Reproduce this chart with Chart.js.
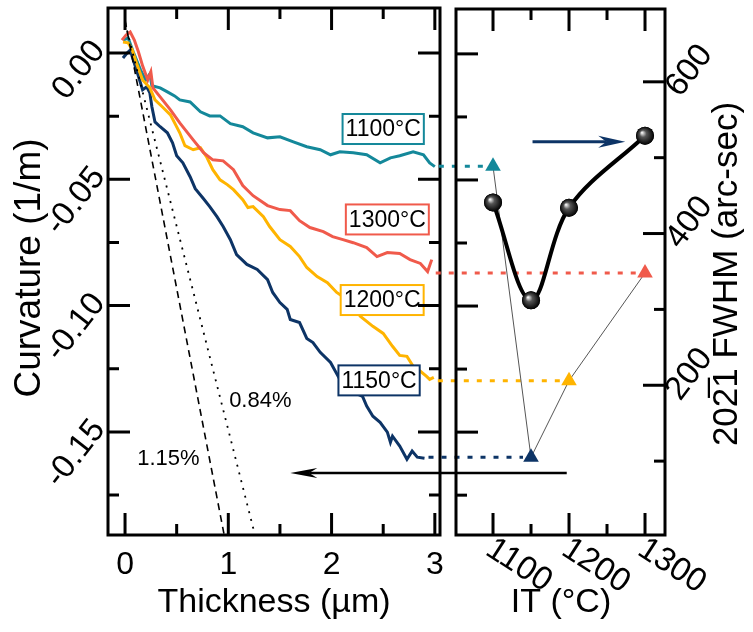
<!DOCTYPE html>
<html>
<head>
<meta charset="utf-8">
<title>Curvature vs thickness / IT</title>
<script src="https://cdn.jsdelivr.net/npm/chart.js@4.4.0/dist/chart.umd.min.js"></script>
<style>
  html, body { margin: 0; padding: 0; background: #fff; }
  #wrap { position: relative; width: 753px; height: 632px; }
  #wrap canvas { position: absolute; left: 0; top: 0; }
</style>
</head>
<body>
<div id="wrap">
  <canvas id="curvChart" width="753" height="632"></canvas>
  <canvas id="itChart" width="753" height="632"></canvas>
</div>
<script>
// ---- data ----
// curvature (1/m) vs film thickness (um) for each interlayer temperature
const thick1100 = [-0.02, 0.03, 0.08, 0.15, 0.20, 0.24, 0.26, 0.34, 0.41, 0.48, 0.53, 0.63, 0.73, 0.82, 0.92, 1.02, 1.14, 1.24, 1.38, 1.50, 1.63, 1.76, 1.89, 1.99, 2.08, 2.21, 2.34, 2.47, 2.57, 2.66, 2.79, 2.89, 2.95, 3.00];
const curv1100 = [0.0051, 0.0059, 0.0004, -0.0067, -0.0107, -0.0083, -0.0130, -0.0138, -0.0154, -0.0170, -0.0186, -0.0194, -0.0233, -0.0249, -0.0249, -0.0280, -0.0292, -0.0316, -0.0336, -0.0332, -0.0352, -0.0371, -0.0383, -0.0403, -0.0391, -0.0395, -0.0403, -0.0435, -0.0415, -0.0407, -0.0391, -0.0403, -0.0435, -0.0450];

const thick1300 = [-0.03, 0.01, 0.05, 0.09, 0.13, 0.17, 0.22, 0.25, 0.27, 0.34, 0.44, 0.53, 0.66, 0.76, 0.85, 0.95, 1.05, 1.14, 1.24, 1.38, 1.50, 1.60, 1.69, 1.79, 1.92, 2.01, 2.11, 2.21, 2.34, 2.44, 2.54, 2.66, 2.76, 2.86, 2.93, 2.97];
const curv1300 = [0.0051, 0.0071, 0.0083, 0.0051, 0.0004, -0.0051, -0.0107, -0.0075, -0.0138, -0.0174, -0.0225, -0.0277, -0.0344, -0.0395, -0.0423, -0.0427, -0.0462, -0.0525, -0.0565, -0.0604, -0.0620, -0.0624, -0.0664, -0.0691, -0.0707, -0.0727, -0.0739, -0.0751, -0.0770, -0.0806, -0.0790, -0.0794, -0.0818, -0.0833, -0.0865, -0.0818];

const thick1200 = [-0.02, 0.03, 0.07, 0.12, 0.17, 0.24, 0.29, 0.36, 0.44, 0.53, 0.58, 0.66, 0.73, 0.79, 0.85, 0.92, 0.99, 1.05, 1.14, 1.19, 1.24, 1.34, 1.40, 1.50, 1.60, 1.69, 1.76, 1.86, 1.96, 2.05, 2.15, 2.28, 2.40, 2.50, 2.59, 2.66, 2.73, 2.79, 2.86, 2.92, 2.95, 2.99];
const curv1200 = [0.0043, 0.0040, 0.0012, -0.0051, -0.0107, -0.0138, -0.0186, -0.0213, -0.0245, -0.0316, -0.0367, -0.0383, -0.0375, -0.0411, -0.0462, -0.0502, -0.0521, -0.0541, -0.0581, -0.0612, -0.0608, -0.0648, -0.0687, -0.0739, -0.0766, -0.0806, -0.0849, -0.0885, -0.0909, -0.0948, -0.0976, -0.1043, -0.1082, -0.1110, -0.1161, -0.1197, -0.1201, -0.1240, -0.1260, -0.1280, -0.1292, -0.1284];

const thick1150 = [-0.02, 0.02, 0.05, 0.08, 0.12, 0.17, 0.21, 0.24, 0.26, 0.29, 0.34, 0.41, 0.46, 0.50, 0.56, 0.63, 0.68, 0.76, 0.82, 0.89, 0.95, 1.02, 1.08, 1.18, 1.28, 1.38, 1.43, 1.50, 1.57, 1.60, 1.69, 1.76, 1.82, 1.89, 1.99, 2.08, 2.15, 2.21, 2.30, 2.34, 2.40, 2.47, 2.54, 2.57, 2.59, 2.66, 2.73, 2.78, 2.83, 2.90];
const curv1150 = [-0.0020, 0.0000, 0.0012, -0.0028, -0.0079, -0.0146, -0.0134, -0.0158, -0.0213, -0.0273, -0.0292, -0.0316, -0.0356, -0.0407, -0.0435, -0.0490, -0.0537, -0.0577, -0.0608, -0.0648, -0.0687, -0.0739, -0.0798, -0.0837, -0.0857, -0.0897, -0.0948, -0.0988, -0.1015, -0.1055, -0.1067, -0.1130, -0.1146, -0.1185, -0.1225, -0.1292, -0.1319, -0.1343, -0.1359, -0.1398, -0.1438, -0.1462, -0.1501, -0.1541, -0.1517, -0.1556, -0.1608, -0.1576, -0.1600, -0.1604];

// theoretical strain lines (1.15% dashed, 0.84% dotted)
const guide115Thick = [0, 0.96];
const guide115Curv = [0.013, -0.1908];
const guide084Thick = [0, 1.258];
const guide084Curv = [0.012, -0.1908];

// right panel
const itTemps = [1100, 1150, 1200, 1300];
const fwhmArcsec = [441, 312, 434, 529];
const finalCurv = [-0.0446, -0.1600, -0.1296, -0.0869];

// ticks
const thickMajor = [0, 1, 2, 3];
const thickMinor = [0.5, 1.5, 2.5];
const curvMajor = [0, -0.05, -0.10, -0.15];
const curvMinor = [0.025, -0.025, -0.075, -0.125, -0.175];
const curvLabels = ['0.00', '-0.05', '-0.10', '-0.15'];
const itMajor = [1100, 1200, 1300];
const itMinor = [1150, 1250];
const fwhmMajor = [200, 400, 600];
const fwhmMinor = [100, 300, 500];

// colours
const c1100 = '#14889a';
const c1150 = '#0d3466';
const c1200 = '#ffb400';
const c1300 = '#f05a4b';
const tempColours = [c1100, c1150, c1200, c1300];
const FONT = '"Liberation Sans", Arial, Helvetica, sans-serif';

// annotations (data coordinates)
const tempBoxes = [
  { text: '1100°C', x: 2.50, y: -0.0301, color: c1100 },
  { text: '1300°C', x: 2.54, y: -0.0659, color: c1300 },
  { text: '1200°C', x: 2.49, y: -0.0978, color: c1200 },
  { text: '1150°C', x: 2.46, y: -0.1296, color: c1150 }
];
const strainLabels = [
  { text: '0.84%', x: 1.31, y: -0.1377 },
  { text: '1.15%', x: 0.42, y: -0.1607 }
];

function pts(xs, ys) {
  return xs.map((x, i) => ({ x: x, y: ys[i] }));
}

function curveSet(label, xs, ys, colour, order) {
  return {
    label: label,
    data: pts(xs, ys),
    showLine: true,
    borderColor: colour,
    borderWidth: 3,
    pointRadius: 0,
    tension: 0,
    order: order
  };
}

function frameRect(ctx, a) {
  ctx.lineWidth = 3;
  ctx.strokeStyle = '#000';
  ctx.strokeRect(a.left, a.top, a.right - a.left, a.bottom - a.top);
}

function xTicks(ctx, scale, a, values, len) {
  values.forEach(v => {
    const px = scale.getPixelForValue(v);
    ctx.beginPath();
    ctx.moveTo(px, a.bottom); ctx.lineTo(px, a.bottom - len);
    ctx.moveTo(px, a.top); ctx.lineTo(px, a.top + len);
    ctx.stroke();
  });
}

function yTicks(ctx, scale, a, values, len, side) {
  values.forEach(v => {
    const py = scale.getPixelForValue(v);
    ctx.beginPath();
    if (side !== 'right') { ctx.moveTo(a.left, py); ctx.lineTo(a.left + len, py); }
    if (side !== 'left') { ctx.moveTo(a.right, py); ctx.lineTo(a.right - len, py); }
    ctx.stroke();
  });
}

function rotText(ctx, text, x, y, deg, align, size) {
  ctx.save();
  ctx.translate(x, y);
  ctx.rotate(deg * Math.PI / 180);
  ctx.font = size + 'px ' + FONT;
  ctx.textAlign = align;
  ctx.textBaseline = 'middle';
  ctx.fillStyle = '#000';
  ctx.fillText(text, 0, 0);
  ctx.restore();
}

function arrow(ctx, x1, y1, x2, y2, colour, width, headLen, headHalf) {
  const ang = Math.atan2(y2 - y1, x2 - x1);
  ctx.save();
  ctx.strokeStyle = colour;
  ctx.fillStyle = colour;
  ctx.lineWidth = width;
  ctx.beginPath();
  ctx.moveTo(x1, y1);
  ctx.lineTo(x2 - Math.cos(ang) * headLen * 0.7, y2 - Math.sin(ang) * headLen * 0.7);
  ctx.stroke();
  ctx.translate(x2, y2);
  ctx.rotate(ang);
  ctx.beginPath();
  ctx.moveTo(0, 0);
  ctx.lineTo(-headLen, -headHalf);
  ctx.lineTo(-headLen * 0.7, 0);
  ctx.lineTo(-headLen, headHalf);
  ctx.closePath();
  ctx.fill();
  ctx.restore();
}

// left panel decorations: frame, ticks, labels, boxes
const curvDecor = {
  id: 'curvDecor',
  afterDatasetsDraw(chart) {
    const { ctx, scales: { x, y } } = chart;
    ctx.save();
    tempBoxes.forEach(b => {
      ctx.font = '23px ' + FONT;
      const w = ctx.measureText(b.text).width + 6;
      const h = 30;
      const cx = x.getPixelForValue(b.x);
      const cy = y.getPixelForValue(b.y);
      ctx.fillStyle = '#fff';
      ctx.fillRect(cx - w / 2, cy - h / 2, w, h);
      ctx.strokeStyle = b.color;
      ctx.lineWidth = 2;
      ctx.strokeRect(cx - w / 2, cy - h / 2, w, h);
      ctx.fillStyle = '#000';
      ctx.textAlign = 'center';
      ctx.textBaseline = 'middle';
      ctx.fillText(b.text, cx, cy + 1);
    });
    strainLabels.forEach(s => {
      ctx.font = '22px ' + FONT;
      ctx.fillStyle = '#000';
      ctx.textAlign = 'center';
      ctx.textBaseline = 'middle';
      ctx.fillText(s.text, x.getPixelForValue(s.x), y.getPixelForValue(s.y));
    });
    ctx.restore();
  },
  afterDraw(chart) {
    const { ctx, chartArea: a, scales: { x, y } } = chart;
    ctx.save();
    frameRect(ctx, a);
    xTicks(ctx, x, a, thickMajor, 22);
    xTicks(ctx, x, a, thickMinor, 11);
    yTicks(ctx, y, a, curvMajor, 22, 'both');
    yTicks(ctx, y, a, curvMinor, 11, 'both');
    ctx.font = '32px ' + FONT;
    ctx.fillStyle = '#000';
    ctx.textAlign = 'center';
    ctx.textBaseline = 'middle';
    thickMajor.forEach(v => ctx.fillText(String(v), x.getPixelForValue(v), 565));
    curvMajor.forEach((v, i) => rotText(ctx, curvLabels[i], 99, y.getPixelForValue(v) - 8, -52, 'right', 33));
    rotText(ctx, 'Thickness (µm)', (a.left + a.right) / 2, 603, 0, 'center', 34);
    rotText(ctx, 'Curvature (1/m)', 30, 268, -90, 'center', 37);
    ctx.restore();
  }
};

const curvChart = new Chart(document.getElementById('curvChart'), {
  type: 'scatter',
  data: {
    datasets: [
      curveSet('1100°C', thick1100, curv1100, c1100, 3),
      curveSet('1150°C', thick1150, curv1150, c1150, 4),
      curveSet('1200°C', thick1200, curv1200, c1200, 2),
      curveSet('1300°C', thick1300, curv1300, c1300, 1),
      {
        label: '1.15%', data: pts(guide115Thick, guide115Curv), showLine: true,
        borderColor: '#000', borderWidth: 1.6, borderDash: [7, 5], pointRadius: 0, order: 0
      },
      {
        label: '0.84%', data: pts(guide084Thick, guide084Curv), showLine: true,
        borderColor: '#000', borderWidth: 1.8, borderDash: [2, 6], pointRadius: 0, order: 0
      }
    ]
  },
  options: {
    responsive: false,
    animation: false,
    events: [],
    layout: { padding: { left: 108, top: 8, right: 313, bottom: 97 } },
    scales: {
      x: { type: 'linear', display: false, min: -0.165, max: 3.05 },
      y: { type: 'linear', display: false, min: -0.1908, max: 0.0178 }
    },
    plugins: { legend: { display: false }, tooltip: { enabled: false } }
  },
  plugins: [curvDecor]
});

// right panel decorations + the links that cross over from the left panel
const lastThick = [thick1100, thick1150, thick1200, thick1300].map(a => a[a.length - 1]);
const fwhmArrow = { x1: 1152, x2: 1274, y: 521 };      // IT / FWHM coords
const curvArrow = { itFrom: 1197, thickTo: 1.60, y: -0.1662 };

const itDecor = {
  id: 'itDecor',
  beforeDatasetsDraw(chart) {
    const { ctx, scales: { x, y } } = chart;
    const lx = curvChart.scales.x;
    ctx.save();
    ctx.lineWidth = 3;
    ctx.setLineDash([5, 8]);
    itTemps.forEach((t, i) => {
      const py = y.getPixelForValue(finalCurv[i]);
      ctx.strokeStyle = tempColours[i];
      ctx.beginPath();
      ctx.moveTo(lx.getPixelForValue(lastThick[i]) + 4, py);
      ctx.lineTo(x.getPixelForValue(t) - 8, py);
      ctx.stroke();
    });
    ctx.restore();
  },
  afterDatasetsDraw(chart) {
    const { ctx, scales: { x, y, y1 } } = chart;
    const lx = curvChart.scales.x;
    const meta = chart.getDatasetMeta(0);
    ctx.save();
    meta.data.forEach(p => {
      const g = ctx.createRadialGradient(p.x - 3, p.y - 3, 0.5, p.x, p.y, 9);
      g.addColorStop(0, '#eeeeee');
      g.addColorStop(0.35, '#555555');
      g.addColorStop(1, '#000000');
      ctx.fillStyle = g;
      ctx.beginPath();
      ctx.arc(p.x, p.y, 9, 0, Math.PI * 2);
      ctx.fill();
    });
    arrow(ctx, x.getPixelForValue(fwhmArrow.x1), y1.getPixelForValue(fwhmArrow.y),
      x.getPixelForValue(fwhmArrow.x2), y1.getPixelForValue(fwhmArrow.y), c1150, 3, 27, 6);
    arrow(ctx, x.getPixelForValue(curvArrow.itFrom), y.getPixelForValue(curvArrow.y),
      lx.getPixelForValue(curvArrow.thickTo), y.getPixelForValue(curvArrow.y), '#000', 2.5, 27, 5);
    ctx.restore();
  },
  afterDraw(chart) {
    const { ctx, chartArea: a, scales: { x, y, y1 } } = chart;
    ctx.save();
    frameRect(ctx, a);
    xTicks(ctx, x, a, itMajor, 22);
    xTicks(ctx, x, a, itMinor, 11);
    yTicks(ctx, y, a, curvMajor, 22, 'left');
    yTicks(ctx, y, a, curvMinor, 11, 'left');
    yTicks(ctx, y1, a, fwhmMajor, 22, 'right');
    yTicks(ctx, y1, a, fwhmMinor, 11, 'right');
    itMajor.forEach(v => rotText(ctx, String(v), x.getPixelForValue(v) - 4, 546, 33, 'left', 33));
    fwhmMajor.forEach(v => rotText(ctx, String(v), a.right + 8, y1.getPixelForValue(v) + 11, -53, 'left', 33));
    rotText(ctx, 'IT (°C)', 561, 603, 0, 'center', 34);
    rotText(ctx, '202\u03051 FWHM (arc-sec)', 727, 274, -90, 'center', 35);
    ctx.restore();
  }
};

const itChart = new Chart(document.getElementById('itChart'), {
  type: 'scatter',
  data: {
    datasets: [
      {
        label: 'FWHM', data: pts(itTemps, fwhmArcsec), yAxisID: 'y1', showLine: true,
        borderColor: '#000', borderWidth: 4, tension: 0.35,
        pointRadius: 9, pointBackgroundColor: '#000', pointBorderWidth: 0, order: 0
      },
      {
        label: 'Final curvature', data: pts(itTemps, finalCurv), yAxisID: 'y', showLine: true,
        borderColor: '#555', borderWidth: 1, tension: 0,
        pointStyle: 'triangle', pointRadius: 9,
        pointBackgroundColor: tempColours, pointBorderColor: tempColours, pointBorderWidth: 0, order: 1
      }
    ]
  },
  options: {
    responsive: false,
    animation: false,
    events: [],
    layout: { padding: { left: 456, top: 8, right: 88, bottom: 97 } },
    scales: {
      x: { type: 'linear', display: false, min: 1051.3, max: 1326.3 },
      y: { type: 'linear', display: false, min: -0.1908, max: 0.0178 },
      y1: { type: 'linear', display: false, min: 2.6, max: 696 }
    },
    plugins: { legend: { display: false }, tooltip: { enabled: false } }
  },
  plugins: [itDecor]
});
</script>
</body>
</html>
